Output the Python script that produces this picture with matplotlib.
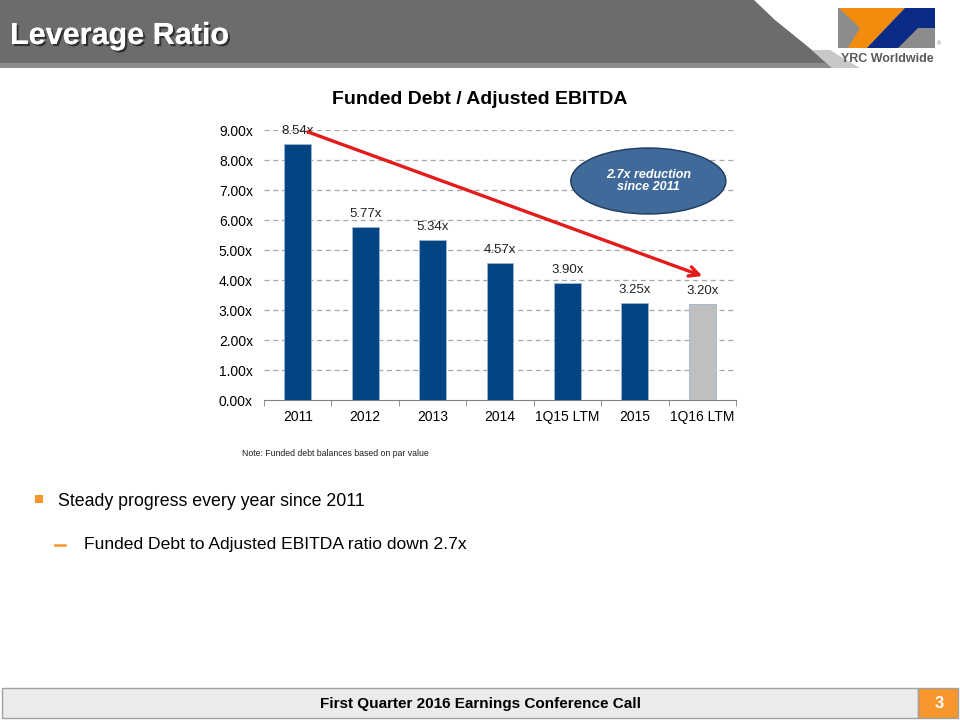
import matplotlib
matplotlib.use("Agg")
import matplotlib.pyplot as plt
import matplotlib.patheffects as pe
from matplotlib.patches import Rectangle, Polygon, Ellipse

plt.rcParams['font.family'] = ['Liberation Sans', 'DejaVu Sans']

# chart data
periods = ['2011', '2012', '2013', '2014', '1Q15 LTM', '2015', '1Q16 LTM']
ratios = [8.54, 5.77, 5.34, 4.57, 3.90, 3.25, 3.20]
bar_colors = ['#034482'] * 6 + ['#BFBFBF']
y_ticks = [0, 1, 2, 3, 4, 5, 6, 7, 8, 9]

fig = plt.figure(figsize=(9.6, 7.2), dpi=100)

# page decoration layer in pixel coords
bg = fig.add_axes([0, 0, 1, 1])
bg.set_xlim(0, 960)
bg.set_ylim(720, 0)
bg.axis('off')

# header band with curved right end
bg.add_patch(Polygon([(0, 0), (754, 0), (775, 20), (812, 50), (832, 68), (0, 68)],
                     closed=True, facecolor='#6E6C6A', edgecolor='none'))
bg.add_patch(Polygon([(0, 63), (826, 63), (832, 68), (0, 68)],
                     closed=True, facecolor='#8E8C8A', edgecolor='none'))
bg.add_patch(Polygon([(812, 50), (832, 68), (860, 68), (830, 50)],
                     closed=True, facecolor='#C8C8C8', edgecolor='none'))
bg.text(10, 36, 'Leverage Ratio', fontsize=22, fontweight='bold', color='white',
        va='center', ha='left',
        path_effects=[pe.withSimplePatchShadow(offset=(1.5, -1.5), shadow_rgbFace='#2A2A2A',
                                               alpha=0.9), pe.Normal()])

# logo
bg.add_patch(Rectangle((838, 8), 97, 40, facecolor='#8C8C8C', edgecolor='none'))
bg.add_patch(Polygon([(839, 8), (905, 8), (867, 48), (848, 48), (860, 28)],
                     closed=True, facecolor='#F28C0F', edgecolor='none'))
bg.add_patch(Polygon([(905, 8), (935, 8), (935, 28), (918, 28), (898, 48), (867, 48)],
                     closed=True, facecolor='#0B2C86', edgecolor='none'))
bg.text(887, 59, 'YRC Worldwide', fontsize=9, fontweight='bold', color='#5A5A5A',
        ha='center', va='center')
bg.text(939, 44, '®', fontsize=4, color='#808080', ha='center', va='center')

# note and bullets
bg.text(242, 453, 'Note: Funded debt balances based on par value', fontsize=6.3,
        color='#202020', ha='left', va='center')
bg.add_patch(Rectangle((35, 495), 8, 8, facecolor='#F7962C', edgecolor='none'))
bg.text(58, 502, 'Steady progress every year since 2011', fontsize=12.8,
        color='black', ha='left', va='center')
bg.plot([55, 65], [545, 545], color='#F7962C', lw=1.8)
bg.text(84, 545, 'Funded Debt to Adjusted EBITDA ratio down 2.7x', fontsize=12.6,
        color='black', ha='left', va='center')

# footer
bg.add_patch(Rectangle((2, 688), 916, 30, facecolor='#EBEBEB', edgecolor='#A0A0A0', lw=1))
bg.add_patch(Rectangle((918, 688), 40, 30, facecolor='#F7962C', edgecolor='#A0A0A0', lw=1))
bg.text(480, 704, 'First Quarter 2016 Earnings Conference Call', fontsize=11,
        fontweight='bold', color='black', ha='center', va='center')
bg.text(939, 704, '3', fontsize=12, fontweight='bold', color='white',
        ha='center', va='center')

# chart title
bg.text(480, 100, 'Funded Debt / Adjusted EBITDA', fontsize=14, fontweight='bold',
        color='black', ha='center', va='center')

# bar chart
ax = fig.add_axes([264 / 960, 1 - 400 / 720, 472 / 960, 270 / 720])
ax.set_facecolor('none')
x = list(range(len(periods)))
ax.bar(x, ratios, width=0.4, color=bar_colors, edgecolor='#9DB6D2', linewidth=0.6, zorder=3)
for xi, v in zip(x, ratios):
    ax.annotate(f'{v:.2f}x', (xi, v), xytext=(0, 5), textcoords='offset points',
                ha='center', va='bottom', fontsize=9.5, color='#222222', zorder=5)

ax.set_xlim(-0.5, len(periods) - 0.5)
ax.set_ylim(0, 9)
ax.set_yticks(y_ticks)
ax.set_yticklabels([f'{t:.2f}x' for t in y_ticks])
ax.set_xticks(x)
ax.set_xticklabels(periods)
ax.set_xticks([i - 0.5 for i in range(len(periods) + 1)], minor=True)
ax.tick_params(axis='x', which='major', length=0, pad=7, labelsize=10)
ax.tick_params(axis='x', which='minor', length=4, color='#808080')
ax.tick_params(axis='y', length=0, pad=8, labelsize=10)
for t in y_ticks[1:]:
    ax.axhline(t, color='#A6A6A6', lw=0.9, ls=(0, (4, 3)), zorder=1)
for s in ['top', 'right', 'left']:
    ax.spines[s].set_visible(False)
ax.spines['bottom'].set_color('#808080')

# trend arrow and callout
ax.annotate('', xy=(6.04, 4.1), xytext=(0.11, 8.97),
            arrowprops=dict(arrowstyle='->,head_length=0.7,head_width=0.35',
                            color='#E31B1B', lw=2.4), zorder=6)
ax.add_patch(Ellipse((5.2, 7.3), 2.3, 2.2, facecolor='#3F6A9A', edgecolor='#1F3A5A',
                     lw=1, zorder=6, clip_on=False))
ax.text(5.2, 7.3, '2.7x reduction\nsince 2011', color='white', fontsize=9,
        fontweight='bold', style='italic', ha='center', va='center', zorder=7,
        linespacing=1.1)

fig.savefig('out.png', dpi=100)
